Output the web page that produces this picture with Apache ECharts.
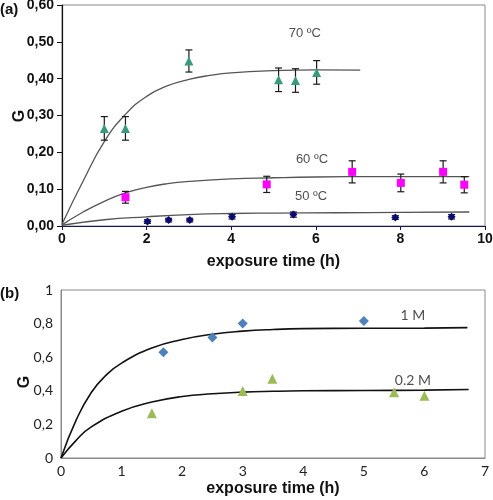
<!DOCTYPE html>
<html>
<head>
<meta charset="utf-8">
<script src="https://cdn.jsdelivr.net/npm/echarts@6/dist/echarts.min.js"></script>
<style>html,body{margin:0;padding:0;background:#fff;}#c{width:493px;height:500px;}</style>
</head>
<body>
<div id="c"></div>
<script>
// ---------- Panel (a) data ----------
const pts70 = [[1,0.265],[1.5,0.265],[3,0.448],[5.12,0.397],[5.52,0.395],[6.02,0.417]];
const err70 = [0.032,0.032,0.030,0.032,0.032,0.032];
const pts60 = [[1.5,0.078],[4.84,0.113],[6.86,0.147],[8.01,0.117],[9.01,0.147],[9.51,0.112]];
const err60 = [0.016,0.022,0.030,0.024,0.030,0.022];
const pts50 = [[2.02,0.012],[2.52,0.016],[3.02,0.016],[4.02,0.025],[5.47,0.031],[7.88,0.023],[9.21,0.025]];
const err50 = [0.005,0.005,0.005,0.006,0.007,0.005,0.006];
const curve70 = [[0,0.005],[0.5,0.122],[1,0.229],[1.5,0.303],[2,0.352],[2.5,0.381],[3,0.398],[3.5,0.409],[4,0.416],[5,0.422],[6,0.424],[7.05,0.423]];
const curve60 = [[0,0.003],[0.5,0.038],[1,0.067],[1.5,0.090],[2,0.105],[2.5,0.115],[3,0.121],[4,0.128],[5,0.131],[6,0.133],[7.5,0.134],[9.63,0.134]];
const curve50 = [[0,0.002],[1,0.017],[2,0.025],[3,0.031],[4,0.034],[5,0.035],[6.5,0.036],[8,0.037],[9.63,0.038]];
const labelsA = [{text:'70 ºC', x:5.74, y:0.524},{text:'60 ºC', x:5.91, y:0.182},{text:'50 ºC', x:5.89, y:0.079}];
const yTicksA = ['0,00','0,10','0,20','0,30','0,40','0,50','0,60'];

// ---------- Panel (b) data ----------
const pts1M = [[1.69,0.629],[2.5,0.718],[3.0,0.800],[5.0,0.815]];
const pts02M = [[1.5,0.266],[3.0,0.399],[3.49,0.472],[5.5,0.391],[6.0,0.371]];
const curve1M = [[0,0],[0.25,0.225],[0.5,0.39],[0.75,0.495],[1,0.565],[1.5,0.655],[2,0.705],[2.5,0.737],[3,0.755],[3.5,0.765],[4,0.770],[5,0.772],[6,0.773],[6.71,0.776]];
const curve02M = [[0,0],[0.25,0.105],[0.5,0.185],[1,0.278],[1.5,0.333],[2,0.366],[2.5,0.382],[3,0.392],[3.5,0.397],[4,0.400],[5,0.402],[6,0.404],[6.73,0.408]];
const labelsB = [{text:'1 M', x:5.81, y:0.847},{text:'0.2 M', x:5.81, y:0.464}];
const yTicksB = ['0','0,2','0,4','0,6','0,8','1'];

const boldFont = 'Liberation Sans';
const lightFont = 'Lato';

function errData(pts, err){ return pts.map((p,i)=>[p[0], p[1]-err[i], p[1]+err[i]]); }
function renderErr(params, api){
  const x = api.value(0), lo = api.value(1), hi = api.value(2);
  const a = api.coord([x, hi]), b = api.coord([x, lo]);
  const w = 3.5, st = {stroke:'#1a1a1a', lineWidth:1.2};
  return {type:'group', children:[
    {type:'line', shape:{x1:a[0],y1:a[1],x2:b[0],y2:b[1]}, style:st},
    {type:'line', shape:{x1:a[0]-w,y1:a[1],x2:a[0]+w,y2:a[1]}, style:st},
    {type:'line', shape:{x1:b[0]-w,y1:b[1],x2:b[0]+w,y2:b[1]}, style:st}
  ]};
}
function errSeries(pts, err){
  return {type:'custom', xAxisIndex:0, yAxisIndex:0, renderItem:renderErr, data:errData(pts,err), encode:{x:0,y:[1,2]}, z:2, silent:true};
}
function curve(data, xi, color, width){
  return {type:'line', xAxisIndex:xi, yAxisIndex:xi, data:data, smooth:0.5, showSymbol:false, symbol:'none', lineStyle:{color:color,width:width}, z:1, silent:true};
}
function scatter(data, xi, symbol, size, color){
  return {type:'scatter', xAxisIndex:xi, yAxisIndex:xi, data:data, symbol:symbol, symbolSize:size, itemStyle:{color:color, opacity:1}, z:3};
}
function textSeries(labels, xi, font, size){
  return {type:'scatter', xAxisIndex:xi, yAxisIndex:xi, symbolSize:1, itemStyle:{color:'rgba(0,0,0,0)'}, z:4,
    data: labels.map(l=>({value:[l.x,l.y], name:l.text})),
    label:{show:true, position:'inside', formatter:p=>p.name, color:'#222', fontFamily:font, fontSize:size}};
}

const chart = echarts.init(document.getElementById('c'), null, {renderer:'canvas'});
chart.setOption({
  animation:false,
  backgroundColor:'#fff',
  grid:[
    {left:62, top:5, width:423, height:221, show:true, borderColor:'#8a8a8a', borderWidth:1, containLabel:false, outerBoundsMode:'none'},
    {left:61, top:290, width:424, height:168, show:true, borderColor:'#8a8a8a', borderWidth:1, containLabel:false, outerBoundsMode:'none'}
  ],
  xAxis:[
    {gridIndex:0, type:'value', min:0, max:10, interval:2,
     axisLine:{show:true, onZero:false, lineStyle:{color:'#15155a', width:1.2}},
     axisTick:{show:true, length:4, lineStyle:{color:'#15155a'}},
     splitLine:{show:false},
     axisLabel:{color:'#111', fontFamily:boldFont, fontWeight:'bold', fontSize:14, margin:6},
     name:'exposure time (h)', nameLocation:'middle', nameGap:28,
     nameTextStyle:{color:'#111', fontFamily:boldFont, fontWeight:'bold', fontSize:16}},
    {gridIndex:1, type:'value', min:0, max:7, interval:1,
     axisLine:{show:true, onZero:false, lineStyle:{color:'#8a8a8a', width:1}},
     axisTick:{show:false}, splitLine:{show:false},
     axisLabel:{color:'#222', fontFamily:lightFont, fontSize:14, margin:6},
     name:'exposure time (h)', nameLocation:'middle', nameGap:23,
     nameTextStyle:{color:'#111', fontFamily:boldFont, fontWeight:'bold', fontSize:16}}
  ],
  yAxis:[
    {gridIndex:0, type:'value', min:0, max:0.6, interval:0.1,
     axisLine:{show:true, onZero:false, lineStyle:{color:'#111', width:1.2}},
     axisTick:{show:true, length:5, lineStyle:{color:'#111'}},
     splitLine:{show:false},
     axisLabel:{color:'#111', fontFamily:boldFont, fontWeight:'bold', fontSize:14, margin:8,
       formatter:(v)=>yTicksA[Math.round(v*10)]}},
    {gridIndex:1, type:'value', min:0, max:1, interval:0.2,
     axisLine:{show:true, onZero:false, lineStyle:{color:'#8a8a8a', width:1}},
     axisTick:{show:false}, splitLine:{show:false},
     axisLabel:{color:'#222', fontFamily:lightFont, fontSize:14, margin:8,
       formatter:(v)=>yTicksB[Math.round(v*5)]}}
  ],
  graphic:[
    {type:'text', left:0, top:2, style:{text:'(a)', font:'bold 15px "Liberation Sans"', fill:'#111'}},
    {type:'text', left:0, top:286, style:{text:'(b)', font:'bold 15px "Liberation Sans"', fill:'#111'}},
    {type:'text', x:20, y:116, rotation:Math.PI/2, style:{text:'G', font:'bold 16px "Liberation Sans"', fill:'#111', align:'center', verticalAlign:'middle'}},
    {type:'text', x:25, y:382, rotation:Math.PI/2, style:{text:'G', font:'bold 16px "Liberation Sans"', fill:'#111', align:'center', verticalAlign:'middle'}}
  ],
  series:[
    curve(curve70, 0, '#555', 1.3),
    curve(curve60, 0, '#555', 1.3),
    curve(curve50, 0, '#555', 1.3),
    errSeries(pts70, err70),
    errSeries(pts60, err60),
    errSeries(pts50, err50),
    scatter(pts70, 0, 'triangle', 9, '#3a9a80'),
    scatter(pts60, 0, 'rect', 8, '#ff00ff'),
    scatter(pts50, 0, 'diamond', 8, '#0a0a78'),
    textSeries(labelsA, 0, boldFont, 13),
    curve(curve1M, 1, '#111', 1.6),
    curve(curve02M, 1, '#111', 1.6),
    scatter(pts1M, 1, 'diamond', 10, '#4f81bd'),
    scatter(pts02M, 1, 'triangle', 10, '#9bbb59'),
    textSeries(labelsB, 1, lightFont, 14)
  ]
});
</script>
</body>
</html>
